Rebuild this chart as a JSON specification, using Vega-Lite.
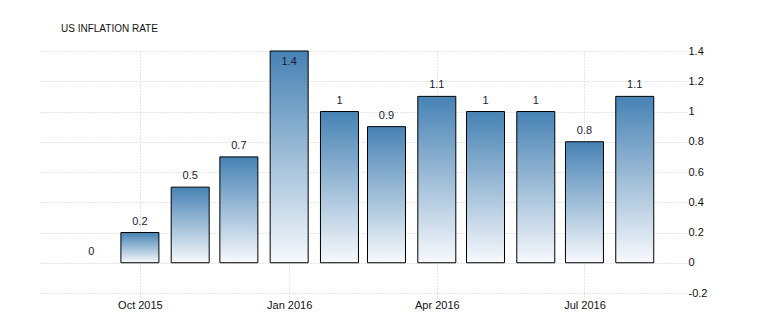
{
  "$schema": "https://vega.github.io/schema/vega-lite/v6.json",
  "autosize": {"type": "none"},
  "width": 647,
  "height": 242,
  "padding": {"left": 39, "top": 51, "right": 95, "bottom": 29},
  "background": "white",
  "config": {"view": {"stroke": null}},
  "title": {
    "text": "US INFLATION RATE",
    "anchor": "start",
    "frame": "group",
    "dx": 22,
    "offset": 11,
    "font": "Liberation Sans",
    "fontSize": 10,
    "fontWeight": "normal",
    "color": "#111"
  },
  "data": {
    "values": [
      {"date": "2015-09-01", "value": 0},
      {"date": "2015-10-01", "value": 0.2},
      {"date": "2015-11-01", "value": 0.5},
      {"date": "2015-12-01", "value": 0.7},
      {"date": "2016-01-01", "value": 1.4},
      {"date": "2016-02-01", "value": 1.0},
      {"date": "2016-03-01", "value": 0.9},
      {"date": "2016-04-01", "value": 1.1},
      {"date": "2016-05-01", "value": 1.0},
      {"date": "2016-06-01", "value": 1.0},
      {"date": "2016-07-01", "value": 0.8},
      {"date": "2016-08-01", "value": 1.1}
    ]
  },
  "encoding": {
    "x": {
      "field": "date",
      "type": "temporal",
      "scale": {
        "type": "utc",
        "nice": false,
        "domain": [1438551360000, 1472472000000]
      },
      "axis": {
        "title": null,
        "values": [1443657600000, 1451606400000, 1459468800000, 1467331200000],
        "labelExpr": "utcFormat(datum.value, '%b %Y')",
        "domain": false,
        "grid": true,
        "gridColor": "#cccccc",
        "gridDash": [1, 2],
        "gridWidth": 1,
        "ticks": true,
        "tickColor": "#cccccc",
        "tickDash": [1, 2],
        "tickSize": 4,
        "labelPadding": 2,
        "labelFont": "Liberation Sans",
        "labelFontSize": 11,
        "labelColor": "#111",
        "labelFlush": false
      }
    },
    "y": {
      "field": "value",
      "type": "quantitative",
      "scale": {"domain": [-0.2, 1.4], "nice": false, "zero": false},
      "axis": {
        "orient": "right",
        "title": null,
        "values": [-0.2, 0, 0.2, 0.4, 0.6, 0.8, 1, 1.2, 1.4],
        "labelExpr": "datum.value < 0 ? '-' + format(-datum.value, '~g') : format(datum.value, '~g')",
        "domain": false,
        "ticks": false,
        "grid": true,
        "gridColor": "#cccccc",
        "gridDash": [1, 2],
        "labelPadding": 2,
        "labelFont": "Liberation Sans",
        "labelFontSize": 11,
        "labelColor": "#111"
      }
    }
  },
  "layer": [
    {
      "transform": [{"filter": "datum.value != 0"}],
      "mark": {
        "type": "bar",
        "size": 38,
        "stroke": "#000000",
        "strokeWidth": 1,
        "fill": {
          "gradient": "linear",
          "x1": 0, "y1": 0, "x2": 0, "y2": 1,
          "stops": [
            {"offset": 0, "color": "#4682b4"},
            {"offset": 1, "color": "#f7f9fc"}
          ]
        }
      },
      "encoding": {"y2": {"datum": 0}}
    },
    {
      "transform": [{"filter": "datum.value < 1.3"}],
      "mark": {"type": "text", "dy": -11, "baseline": "middle", "font": "Liberation Sans", "fontSize": 11, "color": "#1a1a33"},
      "encoding": {"text": {"field": "value", "type": "quantitative", "format": ".1~f"}}
    },
    {
      "transform": [{"filter": "datum.value >= 1.3"}],
      "mark": {"type": "text", "dy": 11, "baseline": "middle", "font": "Liberation Sans", "fontSize": 11, "color": "#1a1a33"},
      "encoding": {"text": {"field": "value", "type": "quantitative", "format": ".1~f"}}
    }
  ]
}
